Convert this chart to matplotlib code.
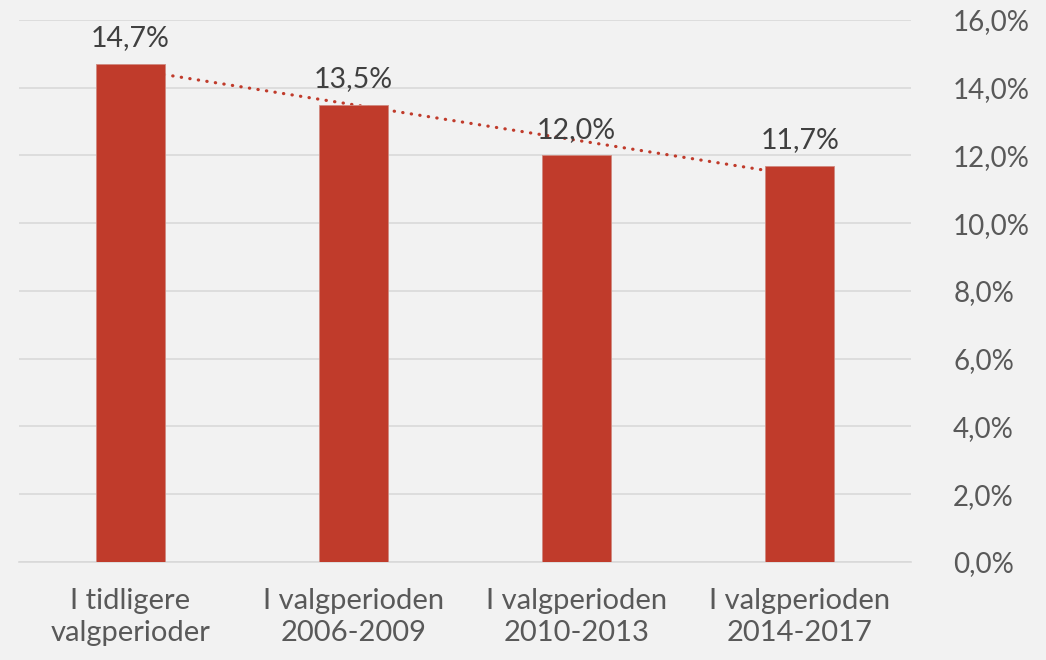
import matplotlib.pyplot as plt
import numpy as np
from matplotlib.ticker import FuncFormatter

# data
categories = ['I tidligere\nvalgperioder', 'I valgperioden\n2006-2009',
              'I valgperioden\n2010-2013', 'I valgperioden\n2014-2017']
values = [14.7, 13.5, 12.0, 11.7]
y_ticks = [0, 2, 4, 6, 8, 10, 12, 14, 16]

bar_color = '#C03B2B'
bg = '#F2F2F2'
grid_color = '#D9D9D9'

plt.rcParams['font.family'] = ['Lato', 'DejaVu Sans']

fig = plt.figure(figsize=(10.46, 6.6), dpi=100, facecolor=bg)
ax = fig.add_axes([0.0177, 0.1485, 0.8537, 0.8212], facecolor=bg)

x = np.arange(1, len(values) + 1)
ax.bar(x, values, width=0.31, color=bar_color, edgecolor='#D08A80', linewidth=0.6, zorder=3)

# lineær trendlinje
k, m = np.polyfit(x, values, 1)
ax.plot(x, k * x + m, color=bar_color, lw=2.3, linestyle=(0, (0.1, 2.6)),
        dash_capstyle='round', zorder=2)

for xi, v in zip(x, values):
    ax.annotate(f'{v:.1f}%'.replace('.', ','), (xi, v), xytext=(0, 9),
                textcoords='offset points', ha='center', va='bottom',
                fontsize=20.5, color='#404040', zorder=4)

ax.set_xlim(0.5, len(values) + 0.5)
ax.set_ylim(0, 16)
ax.set_xticks(x)
ax.set_xticklabels(categories, fontsize=21, color='#595959', linespacing=1.25)
ax.set_yticks(y_ticks)
ax.yaxis.set_major_formatter(FuncFormatter(lambda v, p: f'{v:.1f}%'.replace('.', ',')))
ax.yaxis.tick_right()
for lab in ax.get_yticklabels():
    lab.set_horizontalalignment('left')
ax.tick_params(axis='y', length=0, pad=30, labelsize=20, labelcolor='#595959')
ax.tick_params(axis='x', length=0, pad=19)

ax.grid(axis='y', color=grid_color, lw=1.2, zorder=0)
for s in ['top', 'left', 'right']:
    ax.spines[s].set_visible(False)
ax.spines['bottom'].set_color(grid_color)
ax.spines['bottom'].set_linewidth(1.2)

fig.savefig('out.png', dpi=100, facecolor=bg)
